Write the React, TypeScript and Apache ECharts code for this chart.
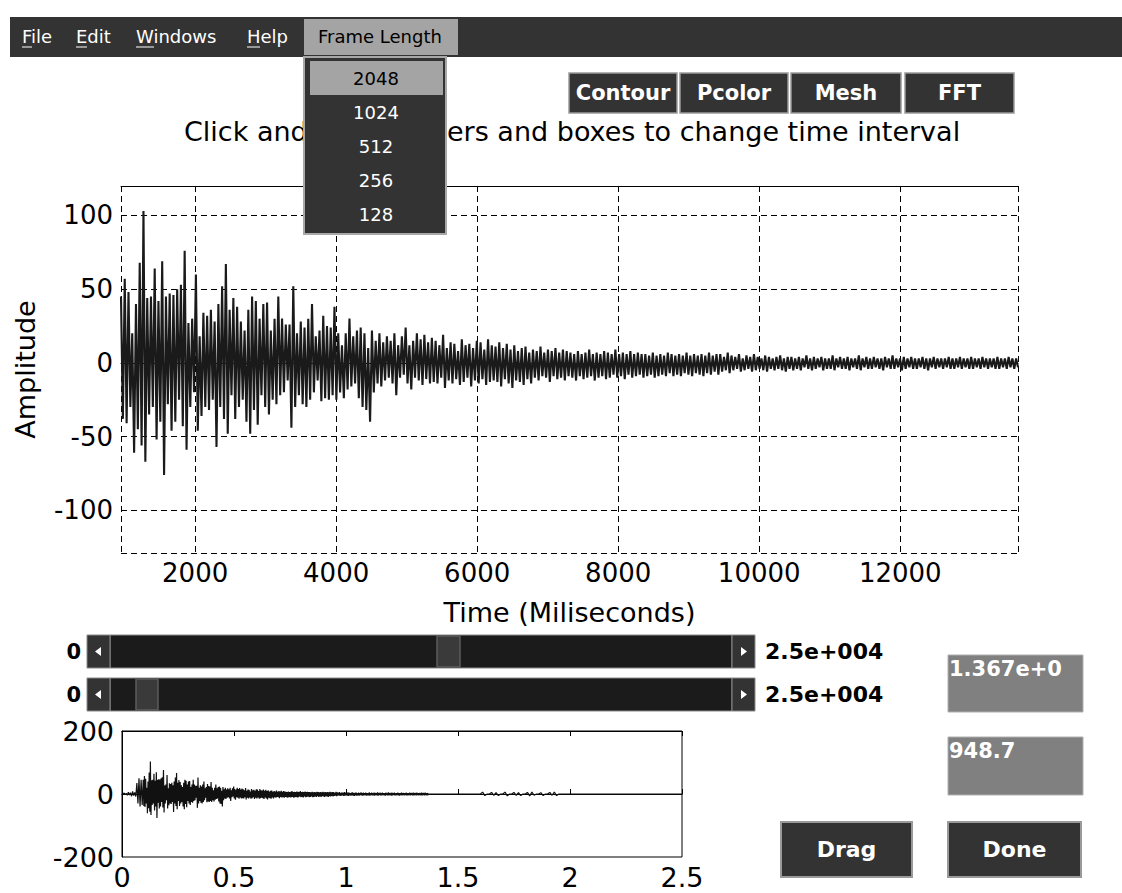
import React, { useEffect, useRef } from "react";
import * as echarts from "echarts";

// ---------------- data ----------------
const T_START = 948.7;
const T_END = 13670;

// upper / lower extremes of the waveform, in time order (main window)
const mainHi = [
  45, 57, 48, 20, 40, 68, 103, 44, 45, 64,
  42, 69, 45, 47, 46, 50, 53, 76, 27, 30,
  60, 18, 34, 32, 36, 28, 40, 52, 67, 36,
  44, 38, 28, 22, 36, 45, 42, 30, 40, 41,
  22, 30, 45, 30, 26, 26, 52, 20, 28, 24,
  30, 40, 18, 22, 32, 25, 24, 38, 20, 12,
  20, 30, 18, 22, 24, 20, 10, 22, 15, 20,
  14, 18, 15, 20, 12, 18, 24, 12, 15, 20,
  16, 19, 14, 17,
  15, 12, 19, 10, 14, 13, 8, 16, 12, 13, 10, 15, 14, 9, 16, 12,
  11, 14, 10, 13, 9, 12, 8, 10, 11, 7, 9, 8, 11, 7, 9, 8, 10, 7, 9, 8,
  7, 6, 8, 6, 7, 9, 6, 7, 6, 8, 7, 6, 9, 6, 7, 6, 8, 6, 7, 6,
  6, 5, 7, 5, 6, 5, 7, 6, 5, 6, 5, 7, 5, 6, 5, 6, 5, 7, 5, 6,
  6, 4, 7, 5, 4, 6, 3, 5, 4, 6, 4, 3, 5, 4, 3, 4, 5, 3, 4, 4,
  3, 4, 3, 5, 3, 4, 3, 4, 3, 3, 5, 3, 4, 3, 4, 3, 3, 5, 3, 4,
  3, 4, 3, 3, 4, 3, 5, 3, 3, 4, 3, 4, 3, 3, 4, 3, 3, 4, 3, 3,
  3, 4, 3, 3, 4, 3, 3, 4, 3, 3, 4, 3, 3, 3, 4, 3, 3, 4, 3, 3,
];
const mainLo = [
  -38, -41, -30, -61, -45, -56, -67, -35, -30, -52,
  -40, -76, -28, -46, -40, -25, -43, -59, -30, -20,
  -46, -36, -30, -32, -25, -57, -30, -38, -48, -22,
  -38, -30, -25, -40, -48, -32, -42, -22, -30, -35,
  -25, -28, -22, -20, -12, -44, -30, -22, -28, -30,
  -25, -20, -12, -26, -24, -25, -22, -25, -20, -24,
  -18, -16, -14, -24, -30, -32, -40, -20, -14, -16,
  -12, -10, -14, -22, -10, -8, -14, -18, -10, -12,
  -15, -11, -14, -13,
  -14, -10, -17, -12, -14, -11, -15, -13, -10, -16, -12, -14, -11, -15, -13, -12,
  -13, -16, -11, -14, -17, -12, -13, -15, -11, -14, -10, -12, -9, -10, -13, -9, -11, -10, -12, -9,
  -10, -12, -9, -11, -10, -9, -12, -10, -9, -11, -10, -8, -10, -9, -11, -8, -10, -9, -8, -10,
  -9, -8, -10, -9, -8, -9, -7, -9, -8, -9, -7, -8, -9, -7, -8, -9, -7, -8, -6, -8,
  -6, -5, -7, -5, -4, -6, -5, -4, -6, -5, -4, -5, -6, -4, -5, -4, -5, -6, -4, -5,
  -4, -5, -3, -4, -5, -4, -3, -5, -4, -4, -5, -3, -4, -4, -5, -3, -4, -5, -3, -4,
  -4, -3, -4, -5, -3, -4, -4, -3, -5, -4, -3, -4, -4, -3, -4, -5, -3, -4, -3, -4,
  -3, -4, -4, -3, -4, -3, -4, -4, -3, -4, -3, -4, -3, -4, -4, -3, -4, -3, -4, -3,
];

// overview plot: signal before the window and after it (time in 1e4 ms)
const leadHi = [0, 3, 2, 6, 4, 8, 5, 35, 50, 45];
const leadLo = [0, -2, -4, -3, -7, -5, -8, -30, -40, -35];
const tailHi = [
  0, 0, 0, 0, 0, 0, 0, 0, 0, 0, 0, 0,
  6, 0, 5, 4, 0, 6, 0, 5, 4, 0, 5, 6, 0, 4, 0, 5, 6,
  0, 0, 0, 0, 0, 0, 0, 0, 0, 0, 0, 0, 0, 0, 0, 0, 0, 0, 0, 0, 0, 0, 0, 0, 0, 0, 0, 0,
];
const tailLo = [
  0, 0, 0, 0, 0, 0, 0, 0, 0, 0, 0, 0,
  -5, 0, -4, -5, 0, -6, 0, -4, -5, 0, -6, -4, 0, -5, 0, -4, -5,
  0, 0, 0, 0, 0, 0, 0, 0, 0, 0, 0, 0, 0, 0, 0, 0, 0, 0, 0, 0, 0, 0, 0, 0, 0, 0, 0, 0,
];
const TAIL_START = 1.37;
const TAIL_STEP = 0.02;

const menuItems = ["File", "Edit", "Windows", "Help"];
const frameLengths = ["2048", "1024", "512", "256", "128"];
const topButtons = ["Contour", "Pcolor", "Mesh", "FFT"];
// the title is partly hidden behind the open Frame Length menu: visible pieces
const titleLeft = "Click and";
const titleRight = "ers and boxes to change time interval";
const sliderMinLabel = "0";
const sliderMaxLabel = "2.5e+004";
const endBoxText = "1.367e+0";
const startBoxText = "948.7";

// ---------------- build series ----------------
const nMain = mainHi.length * 2;
const dtMain = (T_END - T_START) / (nMain - 1);
const mainData: number[][] = [];
for (let i = 0; i < mainHi.length; i++) {
  mainData.push([T_START + 2 * i * dtMain, mainHi[i]]);
  mainData.push([T_START + (2 * i + 1) * dtMain, mainLo[i]]);
}
const smallData: number[][] = [];
const leadStep = T_START / 10000 / (leadHi.length * 2);
for (let i = 0; i < leadHi.length; i++) {
  smallData.push([2 * i * leadStep, leadHi[i]]);
  smallData.push([(2 * i + 1) * leadStep, leadLo[i]]);
}
for (const p of mainData) smallData.push([p[0] / 10000, p[1]]);
for (let i = 0; i < tailHi.length; i++) {
  smallData.push([TAIL_START + i * TAIL_STEP, tailHi[i]]);
  smallData.push([TAIL_START + i * TAIL_STEP + TAIL_STEP / 2, tailLo[i]]);
}

// ---------------- GUI helpers ----------------
const FONT = '"DejaVu Sans"';
function txt(text: string, x: number, y: number, font: string, fill: string, align = "left", vAlign = "middle", z = 20) {
  return {
    type: "text",
    z,
    x,
    y,
    style: { text, font, fill, align, verticalAlign: vAlign, textAlign: align, textVerticalAlign: vAlign },
  };
}
function rect(x: number, y: number, w: number, h: number, fill: string, stroke?: string, lw = 1, z = 15) {
  return {
    type: "rect",
    z,
    shape: { x, y, width: w, height: h },
    style: { fill, stroke: stroke || null, lineWidth: lw },
  };
}
function line(x1: number, y1: number, x2: number, y2: number, stroke: string, lw = 1, z = 20) {
  return { type: "line", z, shape: { x1, y1, x2, y2 }, style: { stroke, lineWidth: lw } };
}

function buildGraphics() {
  const els: any[] = [];
  // menu bar
  els.push(rect(10, 17, 1112, 40, "#333333", undefined, 1, 15));
  const menuX = [22, 76, 136, 247];
  const firstW = [10, 11, 18, 13];
  menuItems.forEach((m, i) => {
    els.push(txt(m, menuX[i], 36, `18px ${FONT}`, "#ffffff"));
    els.push(line(menuX[i], 47, menuX[i] + firstW[i], 47, "#ffffff", 1));
  });
  els.push(rect(304, 19, 154, 36, "#a4a4a4", undefined, 1, 16));
  els.push(txt("Frame Length", 318, 36, `18px ${FONT}`, "#000000", "left", "middle", 21));

  // title (partially hidden by dropdown)
  els.push(txt(titleLeft, 184, 131, `27px ${FONT}`, "#000000", "left", "middle", 5));
  els.push(txt(titleRight, 447, 131, `27px ${FONT}`, "#000000", "left", "middle", 5));

  // dropdown
  els.push(rect(304, 57, 142, 177, "#333333", "#a8a8a8", 2, 30));
  els.push(rect(310, 61, 133, 34, "#a4a4a4", undefined, 1, 31));
  const itemY = [78, 112, 146, 180, 214];
  frameLengths.forEach((f, i) => {
    els.push(txt(f, 376, itemY[i], `18px ${FONT}`, i === 0 ? "#000000" : "#ffffff", "center", "middle", 32));
  });

  // top buttons
  const bx = [569, 680, 791, 905];
  const bw = [108, 108, 110, 109];
  topButtons.forEach((b, i) => {
    els.push(rect(bx[i], 73, bw[i], 40, "#333333", "#9a9a9a", 1.5, 15));
    els.push(txt(b, bx[i] + bw[i] / 2, 93, `bold 21px ${FONT}`, "#ffffff", "center", "middle", 16));
  });

  // sliders
  const rows = [
    { y: 635, tx: 437, tw: 23 },
    { y: 678, tx: 136, tw: 22 },
  ];
  rows.forEach((r) => {
    const cy = r.y + 16.5;
    els.push(rect(110, r.y, 622, 33, "#1b1b1b", "#8a8a8a", 1, 15));
    els.push(rect(87, r.y, 23, 33, "#333333", "#8a8a8a", 1, 16));
    els.push(rect(732, r.y, 23, 33, "#333333", "#8a8a8a", 1, 16));
    els.push({ type: "polygon", z: 17, shape: { points: [[95, cy], [101, cy - 4.5], [101, cy + 4.5]] }, style: { fill: "#ffffff" } });
    els.push({ type: "polygon", z: 17, shape: { points: [[747, cy], [741, cy - 4.5], [741, cy + 4.5]] }, style: { fill: "#ffffff" } });
    els.push(rect(r.tx, r.y + 1, r.tw, 31, "#3a3a3a", "#5c5c5c", 1.5, 17));
    els.push(txt(sliderMinLabel, 81, cy, `bold 21px ${FONT}`, "#000000", "right"));
    els.push(txt(sliderMaxLabel, 765, cy, `bold 22px ${FONT}`, "#000000", "left"));
  });

  // value boxes
  els.push(rect(948, 655, 135, 57, "#808080", "#b0b0b0", 1, 15));
  els.push(txt(endBoxText, 949, 658, `bold 21px ${FONT}`, "#ffffff", "left", "top"));
  els.push(rect(948, 737, 135, 58, "#808080", "#b0b0b0", 1, 15));
  els.push(txt(startBoxText, 949, 740, `bold 21px ${FONT}`, "#ffffff", "left", "top"));

  // bottom buttons
  els.push(rect(781, 822, 131, 55, "#333333", "#9a9a9a", 2, 15));
  els.push(txt("Drag", 846.5, 849.5, `bold 22px ${FONT}`, "#ffffff", "center"));
  els.push(rect(948, 822, 133, 55, "#333333", "#9a9a9a", 2, 15));
  els.push(txt("Done", 1014.5, 849.5, `bold 22px ${FONT}`, "#ffffff", "center"));
  return els;
}

const dashed = { color: "#000000", width: 1, type: [6, 4] as any };

export default function App() {
  const ref = useRef<HTMLDivElement>(null);
  useEffect(() => {
    const chart = echarts.init(ref.current as HTMLDivElement, null, { renderer: "svg" });
    const option: any = {
      animation: false,
      backgroundColor: "#ffffff",
      textStyle: { fontFamily: "DejaVu Sans" },
      grid: [
        { left: 121, right: 104, top: 186, bottom: 340, containLabel: false },
        { left: 122, right: 440, top: 731, bottom: 36, containLabel: false, show: true, borderColor: "#000", borderWidth: 1 },
      ],
      xAxis: [
        {
          gridIndex: 0,
          type: "value",
          position: "bottom",
          min: T_START,
          max: T_END,
          splitNumber: 6,
          minInterval: 2000,
          maxInterval: 2000,
          axisLine: { show: true, lineStyle: { color: "#000", width: 1 } },
          axisTick: { show: true, inside: true, length: 6, lineStyle: { color: "#000" } },
          axisLabel: {
            show: true,
            showMinLabel: false,
            showMaxLabel: false,
            color: "#000",
            fontSize: 26,
            margin: 7,
            formatter: (v: number) => String(v),
          },
          splitLine: { show: true, lineStyle: dashed },
          name: "Time (Miliseconds)",
          nameLocation: "middle",
          nameGap: 46,
          nameTextStyle: { color: "#000", fontSize: 27 },
        },
        {
          gridIndex: 0,
          type: "value",
          position: "top",
          min: T_START,
          max: T_END,
          splitNumber: 6,
          minInterval: 2000,
          maxInterval: 2000,
          axisLine: { show: true, lineStyle: { color: "#000", width: 1 } },
          axisTick: { show: true, inside: true, length: 6, lineStyle: { color: "#000" } },
          axisLabel: { show: false },
          splitLine: { show: false },
        },
        {
          gridIndex: 1,
          type: "value",
          position: "bottom",
          min: 0,
          max: 2.5,
          interval: 0.5,
          axisLine: { show: true, lineStyle: { color: "#000", width: 1 } },
          axisTick: { show: true, inside: true, length: 5, lineStyle: { color: "#000" } },
          axisLabel: { show: true, color: "#000", fontSize: 27, margin: 7 },
          splitLine: { show: false },
        },
        {
          gridIndex: 1,
          type: "value",
          position: "top",
          min: 0,
          max: 2.5,
          interval: 0.5,
          axisLine: { show: true, lineStyle: { color: "#000", width: 1 } },
          axisTick: { show: true, inside: true, length: 5, lineStyle: { color: "#000" } },
          axisLabel: { show: false },
          splitLine: { show: false },
        },
      ],
      yAxis: [
        {
          gridIndex: 0,
          type: "value",
          min: -129,
          max: 120,
          splitNumber: 5,
          minInterval: 50,
          maxInterval: 50,
          axisLine: { show: false },
          axisTick: { show: true, inside: true, length: 6, lineStyle: { color: "#000" } },
          axisLabel: { show: true, showMinLabel: false, showMaxLabel: false, color: "#000", fontSize: 26, margin: 8 },
          splitLine: { show: true, lineStyle: dashed },
          name: "Amplitude",
          nameLocation: "middle",
          nameRotate: 90,
          nameGap: 82,
          nameTextStyle: { color: "#000", fontSize: 27 },
        },
        {
          gridIndex: 1,
          type: "value",
          min: -200,
          max: 200,
          interval: 200,
          axisLine: { show: true, lineStyle: { color: "#000", width: 1 } },
          axisTick: { show: false },
          axisLabel: { show: true, color: "#000", fontSize: 27, margin: 8 },
          splitLine: { show: false },
        },
      ],
      series: [
        {
          type: "line",
          xAxisIndex: 0,
          yAxisIndex: 0,
          data: mainData,
          showSymbol: false,
          symbol: "none",
          clip: true,
          lineStyle: { color: "#1a1a1a", width: 2.1 },
          z: 3,
        },
        {
          type: "line",
          xAxisIndex: 2,
          yAxisIndex: 1,
          data: smallData,
          showSymbol: false,
          symbol: "none",
          clip: true,
          lineStyle: { color: "#111111", width: 1.2 },
          z: 3,
        },
      ],
      graphic: { elements: buildGraphics() },
    };
    chart.setOption(option);
    return () => chart.dispose();
  }, []);
  return (
    <div
      ref={ref}
      style={{ position: "absolute", left: 0, top: 0, width: 1122, height: 893, background: "#ffffff" }}
    />
  );
}
